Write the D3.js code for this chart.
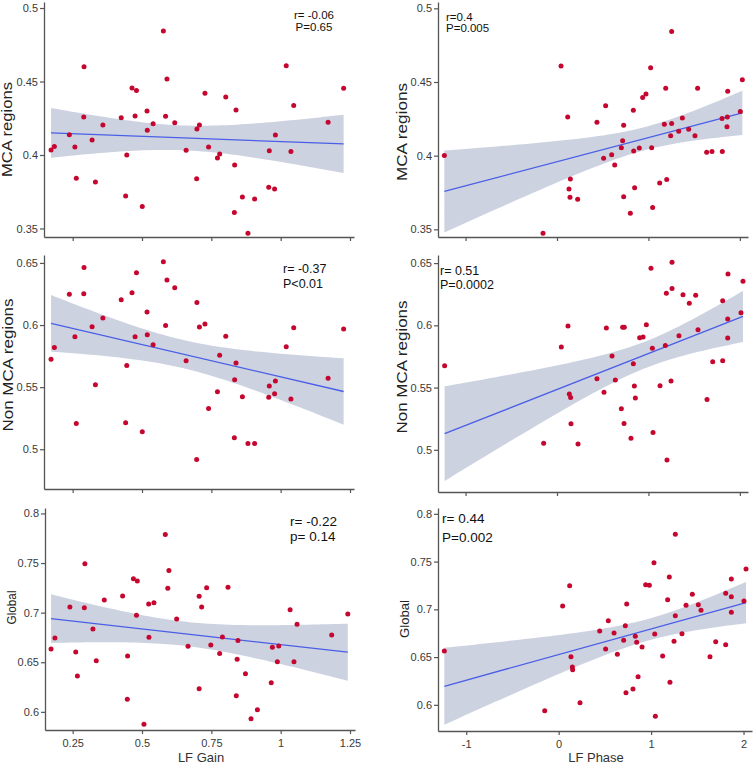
<!DOCTYPE html>
<html><head><meta charset="utf-8">
<script src="https://cdn.jsdelivr.net/npm/d3@7"></script>
<style>body{margin:0;background:#fff}svg{display:block}</style>
</head><body><svg id="c" width="754" height="765"></svg>
<script>
// ---------- data ----------
const gainTop = [0.172,0.184,0.238,0.258,0.263,0.291,0.290,0.320,0.332,0.359,0.425,0.441,0.445,0.464,0.475,0.480,0.501,0.518,0.519,0.540,0.577,0.590,0.585,0.618,0.659,0.697,0.698,0.707,0.727,0.740,0.772,0.780,0.802,0.833,0.834,0.839,0.862,0.882,0.906,0.957,0.959,0.978,0.981,1.020,1.037,1.047,1.171,1.227];
const gainBot = [0.172,0.186,0.240,0.261,0.267,0.294,0.292,0.323,0.335,0.364,0.430,0.447,0.448,0.469,0.480,0.483,0.507,0.524,0.525,0.543,0.584,0.597,0.593,0.625,0.666,0.706,0.706,0.715,0.733,0.748,0.780,0.790,0.810,0.840,0.843,0.846,0.873,0.893,0.916,0.966,0.970,0.988,0.993,1.034,1.048,1.059,1.184,1.242];
const mcaL = [0.4034,0.4057,0.4138,0.4054,0.3841,0.460,0.4259,0.4102,0.3816,0.4204,0.4254,0.3721,0.400,0.4456,0.4265,0.4438,0.3649,0.4299,0.4168,0.4213,0.4844,0.4517,0.4263,0.4220,0.4032,0.3839,0.4177,0.4204,0.4420,0.4054,0.3980,0.4007,0.4395,0.3608,0.3932,0.4306,0.3714,0.3467,0.3701,0.3780,0.4029,0.3769,0.4136,0.4608,0.4023,0.4336,0.4222,0.4454];
const nonL = [0.5724,0.5820,0.6247,0.5906,0.5208,0.6464,0.6252,0.5987,0.5520,0.6056,0.6204,0.5214,0.5675,0.6260,0.5906,0.6421,0.5141,0.6105,0.5922,0.5842,0.6510,0.6362,0.5997,0.6301,0.5713,0.4918,0.6182,0.5984,0.6008,0.5329,0.5463,0.5756,0.5909,0.5093,0.5560,0.5694,0.5423,0.5047,0.5047,0.5418,0.5509,0.5447,0.5549,0.5826,0.5404,0.5979,0.5571,0.5968];
const globL = [0.6634,0.6745,0.7057,0.6603,0.6361,0.7494,0.7050,0.6835,0.6516,0.7128,0.7168,0.6126,0.6563,0.7343,0.6973,0.7319,0.5874,0.7087,0.6751,0.7101,0.7787,0.7424,0.7245,0.6936,0.6661,0.6234,0.7165,0.7057,0.7252,0.6674,0.6587,0.6755,0.7255,0.6163,0.6529,0.6718,0.6385,0.5931,0.6022,0.6294,0.6650,0.6506,0.6664,0.7030,0.6506,0.6882,0.6775,0.6987];
const phaseTop = [-1.232,-0.153,0.044,0.117,0.131,0.146,0.142,0.226,0.437,0.532,0.510,0.598,0.631,0.704,0.718,0.729,0.729,0.835,0.839,0.849,0.802,0.900,0.937,0.973,1.024,1.035,1.046,1.123,1.174,1.189,1.200,1.243,1.254,1.254,1.331,1.371,1.440,1.509,1.538,1.637,1.695,1.808,1.805,1.863,1.867,1.859,2.005,2.027];
const mcaR = [0.4002,0.3473,0.4609,0.4262,0.3774,0.3842,0.3717,0.3704,0.4226,0.4339,0.3982,0.4007,0.3937,0.4054,0.4102,0.4206,0.3722,0.4308,0.4032,0.3783,0.3609,0.4052,0.4394,0.4419,0.4597,0.4054,0.3649,0.3814,0.4213,0.4457,0.3839,0.4136,0.4219,0.4842,0.4165,0.4256,0.4179,0.4136,0.4457,0.4023,0.4029,0.4029,0.4253,0.4262,0.4437,0.4197,0.4299,0.4516];
const phaseMid = [-1.229,-0.146,0.047,0.120,0.135,0.149,0.153,0.230,0.437,0.540,0.514,0.602,0.638,0.704,0.718,0.736,0.733,0.835,0.846,0.857,0.809,0.904,0.941,0.977,1.028,1.043,1.050,1.127,1.185,1.196,1.203,1.247,1.258,1.258,1.334,1.378,1.447,1.517,1.542,1.641,1.703,1.812,1.812,1.867,1.870,1.867,2.012,2.034];
const nonR = [0.5676,0.5052,0.5826,0.5995,0.5448,0.5421,0.5210,0.5046,0.5571,0.5979,0.5462,0.5754,0.5561,0.5330,0.5984,0.5984,0.5212,0.5692,0.5512,0.5416,0.5092,0.5901,0.5906,0.6005,0.6458,0.5815,0.5140,0.5515,0.5837,0.6257,0.4918,0.5553,0.6295,0.6506,0.5917,0.6246,0.6177,0.6241,0.5965,0.5405,0.5708,0.5716,0.6198,0.5898,0.6413,0.6051,0.6102,0.6354];
const phaseBot = [-1.237,-0.151,0.043,0.119,0.133,0.148,0.151,0.231,0.444,0.537,0.508,0.599,0.635,0.703,0.721,0.736,0.728,0.829,0.844,0.859,0.804,0.902,0.941,0.981,1.031,1.039,1.046,1.125,1.179,1.197,1.204,1.248,1.262,1.262,1.334,1.378,1.446,1.511,1.540,1.637,1.699,1.807,1.807,1.868,1.868,1.868,2.005,2.027];
const globR = [0.6564,0.5939,0.7035,0.7248,0.6504,0.6396,0.6368,0.6023,0.6773,0.6881,0.6585,0.6752,0.6529,0.6675,0.6829,0.7056,0.6127,0.6717,0.6654,0.6295,0.6166,0.6606,0.7258,0.7251,0.7489,0.6742,0.5880,0.6511,0.7101,0.7339,0.6236,0.6665,0.6934,0.7785,0.6745,0.7042,0.7157,0.7049,0.6990,0.6504,0.6661,0.6630,0.7168,0.6969,0.7318,0.7133,0.7087,0.7422];

const gainTicks = [0.25,0.5,0.75,1,1.25];
const phaseTicks = [-1,0,1,2];
const mcaTicks = [0.35,0.4,0.45,0.5];
const nonTicks = [0.5,0.55,0.6,0.65];
const globalTicks = [0.6,0.65,0.7,0.75,0.8];
const yTitles = ["MCA regions","Non MCA regions","Global"];
const xTitles = ["LF Gain","LF Phase"];
const statText = [["r= -0.06","P=0.65"],["r=0.4","P=0.005"],["r= -0.37","P<0.01"],["r= 0.51","P=0.0002"],["r= -0.22","p= 0.14"],["r= 0.44","P=0.002"]];

// ---------- layout ----------
const FONT = '"Liberation Sans", Arial, Helvetica, sans-serif';
const panels = [
 {xs:gainTop, ys:mcaL, xd:[0.1466,1.2644], yd:[0.3442,0.5041], px:[44,354], py:[2,237], xt:gainTicks, yt:mcaTicks, xl:false, yti:0, ytx:12, yty:129.5, ytl:95, ytf:14, st:0, sx:314, sy:[19,30.5], sa:"middle", sf:11.5},
 {xs:phaseTop, ys:mcaR, xd:[-1.3015,2.089], yd:[0.3448,0.5043], px:[438,748], py:[2,237], xt:phaseTicks, yt:mcaTicks, xl:false, yti:0, ytx:407, yty:132, ytl:98, ytf:14, st:1, sx:446, sy:[20.5,32], sa:"start", sf:11.5},
 {xs:gainTop, ys:nonL, xd:[0.1466,1.2644], yd:[0.468,0.6564], px:[44,354], py:[255,489], xt:gainTicks, yt:nonTicks, xl:false, yti:1, ytx:13, yty:365, ytl:133, ytf:14, st:2, sx:283, sy:[273,287.5], sa:"start", sf:12.5},
 {xs:phaseMid, ys:nonR, xd:[-1.3015,2.089], yd:[0.4661,0.6565], px:[438,748], py:[255,492], xt:phaseTicks, yt:nonTicks, xl:false, yti:1, ytx:407, yty:367, ytl:133, ytf:14, st:3, sx:440, sy:[274.5,289], sa:"start", sf:12.5},
 {xs:gainBot, ys:globL, xd:[0.1502,1.268], yd:[0.5817,0.8055], px:[45,355], py:[508,730], xt:gainTicks, yt:globalTicks, xl:true, xti:0, xtx:201, yti:2, ytx:16, yty:607.5, ytl:34, ytf:13, st:4, sx:290, sy:[525.5,540.5], sa:"start", sf:13.5},
 {xs:phaseBot, ys:globR, xd:[-1.3055,2.0916], yd:[0.5726,0.8061], px:[438,752], py:[508,731], xt:phaseTicks, yt:globalTicks, xl:true, xti:1, xtx:596, yti:2, ytx:409, yty:619, ytl:38, ytf:13, st:5, sx:442, sy:[523,542], sa:"start", sf:13.5}
];

const svg = d3.select("#c");
const fmt = d => String(d);

function fit(xs, ys){
  const n = xs.length, mx = d3.mean(xs), my = d3.mean(ys);
  let sxx = 0, sxy = 0;
  for (let i=0;i<n;i++){ sxx += (xs[i]-mx)**2; sxy += (xs[i]-mx)*(ys[i]-my); }
  const b = sxy/sxx, a = my - b*mx;
  let sse = 0;
  for (let i=0;i<n;i++){ sse += (ys[i]-a-b*xs[i])**2; }
  const s = Math.sqrt(sse/(n-2)), t = 2.0129;
  return {f: x => a + b*x, h: x => t*s*Math.sqrt(1/n + (x-mx)**2/sxx)};
}

panels.forEach(p => {
  const x = d3.scaleLinear().domain(p.xd).range(p.px);
  const y = d3.scaleLinear().domain(p.yd).range([p.py[1], p.py[0]]);
  const g = svg.append("g");
  const m = fit(p.xs, p.ys);
  const ext = d3.extent(p.xs);
  const samples = d3.range(0, 61).map(i => ext[0] + (ext[1]-ext[0])*i/60);

  g.append("path").datum(samples)
    .attr("d", d3.area().x(d => x(d)).y0(d => y(m.f(d)-m.h(d))).y1(d => y(m.f(d)+m.h(d))))
    .attr("fill", "#cdd2e1");
  g.append("path").datum(ext)
    .attr("d", d3.line().x(d => x(d)).y(d => y(m.f(d))))
    .attr("fill", "none").attr("stroke", "#4a5fe6").attr("stroke-width", 1.3);
  g.selectAll("circle").data(p.xs).join("circle")
    .attr("cx", d => x(d)).attr("cy", (d,i) => y(p.ys[i])).attr("r", 2.5)
    .attr("fill", "#c5062f");

  const ax = g.append("g").attr("transform", `translate(0,${p.py[1]})`)
    .call(d3.axisBottom(x).tickValues(p.xt).tickSize(4).tickSizeOuter(0).tickPadding(5)
      .tickFormat(p.xl ? fmt : () => ""));
  const ay = g.append("g").attr("transform", `translate(${p.px[0]},0)`)
    .call(d3.axisLeft(y).tickValues(p.yt).tickSize(4).tickSizeOuter(0).tickPadding(2).tickFormat(fmt));
  [ax, ay].forEach(a => {
    a.select(".domain").attr("stroke", "#555").attr("stroke-width", 1.3);
    a.selectAll(".tick line").attr("stroke", "#555").attr("stroke-width", 1.2);
    a.selectAll("text").attr("fill", "#3a3a3a").style("font-size", "11px").style("font-family", FONT);
  });

  // y title
  svg.append("text").attr("transform", `translate(${p.ytx},${p.yty}) rotate(-90)`)
    .attr("text-anchor", "middle").attr("fill", "#222")
    .attr("textLength", p.ytl).attr("lengthAdjust", "spacingAndGlyphs")
    .style("font-size", p.ytf + "px").style("font-family", FONT).text(yTitles[p.yti]);
  // x title
  if (p.xl) {
    svg.append("text").attr("x", p.xtx).attr("y", 762).attr("text-anchor", "middle")
      .attr("fill", "#333").style("font-size", "13px").style("font-family", FONT).text(xTitles[p.xti]);
  }
  // stats
  statText[p.st].forEach((s, i) => {
    svg.append("text").attr("x", p.sx).attr("y", p.sy[i]).attr("text-anchor", p.sa)
      .attr("fill", "#111").style("font-size", p.sf + "px").style("font-family", FONT).text(s);
  });
});
</script></body></html>
